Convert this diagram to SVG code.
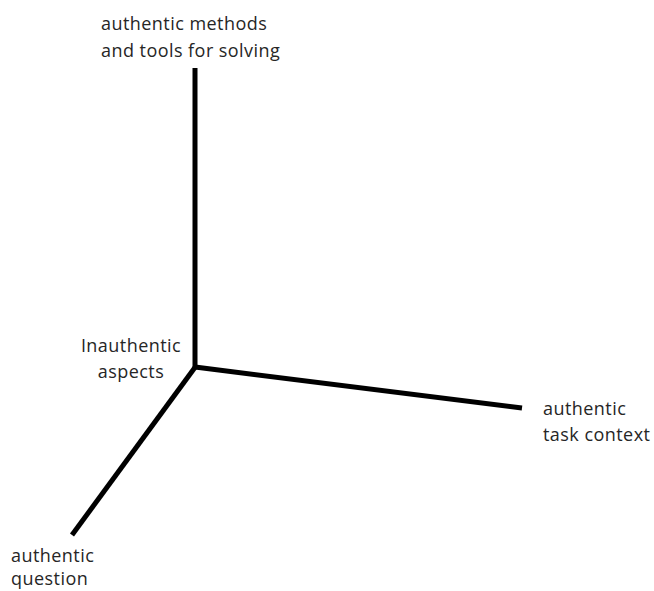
<svg xmlns="http://www.w3.org/2000/svg" width="654" height="591" viewBox="0 0 654 591">
<style>
.lbl{font-family:"Open Sans","Liberation Sans",sans-serif;font-size:18px;letter-spacing:0.45px;fill:#262626}
.axis{stroke:#000;stroke-width:5;fill:none}
</style>
<rect width="654" height="591" fill="#fff"/>
<g id="connectors">
<line class="axis" x1="195" y1="68" x2="195" y2="367"/>
<line class="axis" x1="195" y1="367" x2="522" y2="408"/>
<line class="axis" x1="196" y1="366" x2="72" y2="535"/>
</g>
<g id="methods"><text class="lbl" x="101" y="30">authentic methods</text><text class="lbl" x="101" y="57">and tools for solving</text></g>
<g id="origin"><text class="lbl" x="131" y="352" text-anchor="middle">Inauthentic</text><text class="lbl" x="131" y="378" text-anchor="middle">aspects</text></g>
<g id="context"><text class="lbl" x="543" y="415">authentic</text><text class="lbl" x="543" y="441">task context</text></g>
<g id="question"><text class="lbl" x="11" y="562">authentic</text><text class="lbl" x="11" y="585">question</text></g>
</svg>
